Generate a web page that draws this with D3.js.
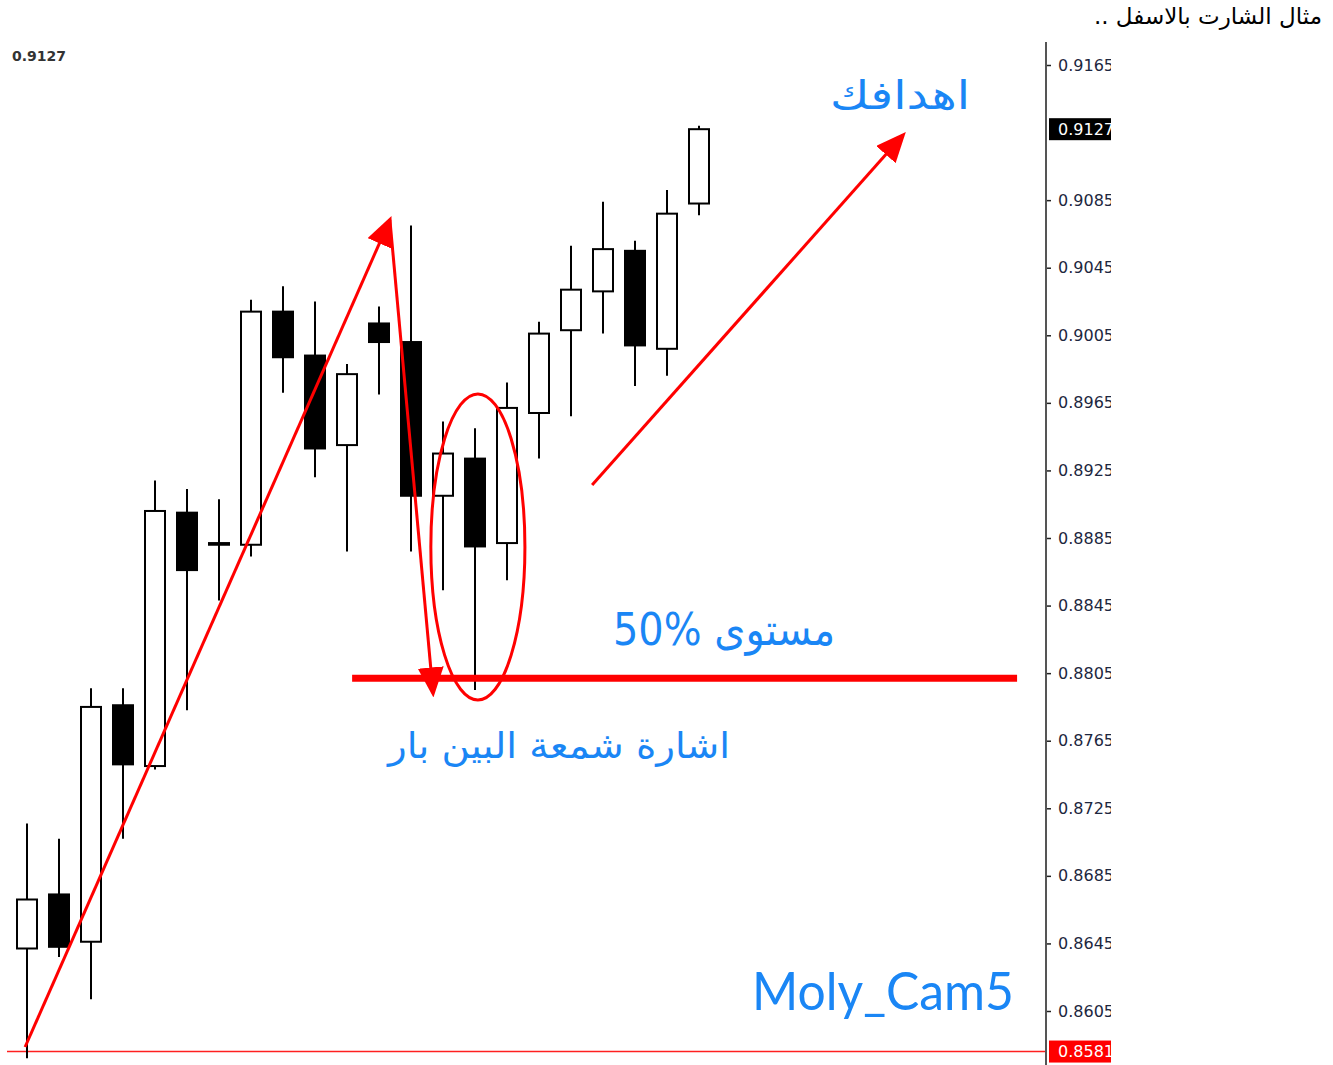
<!DOCTYPE html>
<html lang="ar">
  <head>
    <meta charset="utf-8">
    <title>Pin bar example</title>
  </head>
  <style>
    body {
      margin: 0;
      background: #fff;
    }
    #title {
      position: absolute;
      right: 11px;
      top: 3px;
      font-family: 'DejaVu Sans', sans-serif;
      font-size: 23px;
      direction: rtl;
      color: #000;
    }
  </style>
  <body>
    <div id="title">مثال الشارت بالاسفل ..</div>
    <div id="chart-area"></div>
    <script src="https://cdn.jsdelivr.net/npm/d3@7"></script>
    <script>
      // candles
      const opens  = [0.8642, 0.8674, 0.8646, 0.8786, 0.8750, 0.8900, 0.8881, 0.8881, 0.9019, 0.8993, 0.8940,
                      0.9012, 0.9001, 0.8910, 0.8932, 0.8882, 0.8959, 0.9008, 0.9031, 0.9055, 0.8997, 0.9083];
      const highs  = [0.8716, 0.8707, 0.8796, 0.8796, 0.8919, 0.8914, 0.8908, 0.9026, 0.9034, 0.9025, 0.8988,
                      0.9022, 0.9070, 0.8954, 0.8950, 0.8977, 0.9013, 0.9058, 0.9084, 0.9061, 0.9091, 0.9129];
      const lows   = [0.8577, 0.8637, 0.8612, 0.8707, 0.8748, 0.8783, 0.8848, 0.8874, 0.8971, 0.8921, 0.8877,
                      0.8970, 0.8877, 0.8854, 0.8795, 0.8860, 0.8932, 0.8957, 0.9006, 0.8975, 0.8981, 0.9076];
      const closes = [0.8671, 0.8643, 0.8785, 0.8751, 0.8901, 0.8866, 0.8882, 0.9019, 0.8992, 0.8938, 0.8982,
                      0.9001, 0.8910, 0.8935, 0.8880, 0.8962, 0.9006, 0.9032, 0.9056, 0.8999, 0.9077, 0.9127];

      // 0.9125 sits under the last-price box, so it is left out
      const tick_values = [0.9165, 0.9085, 0.9045, 0.9005, 0.8965, 0.8925, 0.8885, 0.8845,
                           0.8805, 0.8765, 0.8725, 0.8685, 0.8645, 0.8605];
      const low_mark = 0.8581;
      const level_50 = 0.8802;

      // annotation points, [candle index, price]
      const up_leg     = [[-0.06, 0.85837], [11.34, 0.90735]];
      const down_leg   = [[11.34, 0.90735], [12.69, 0.87930]];
      const target_leg = [[17.66, 0.89164], [27.38, 0.91235]];
      const level_span = [10.16, 30.94];
      const pin_circle = {cx: 14.09, cy: 0.88797, rx: 1.47, ry: 0.00906};

      const svg_width = 1333;
      const svg_height = 1065;
      const axis_x = 1046;
      const blue = '#1a86f5';

      const x_scale = d3.scaleLinear().domain([0, 21]).range([27, 699]);
      const y_scale = d3.scaleLinear().domain([0.8605, 0.9165]).range([1011, 65]);

      const candles = opens.map((o, i) => ({i: i, o: o, h: highs[i], l: lows[i], c: closes[i]}));

      const svg = d3.select('#chart-area')
        .append('svg')
        .attr('width', svg_width)
        .attr('height', svg_height)
        .style('display', 'block');

      const defs = svg.append('defs');
      defs.append('clipPath').attr('id', 'axis-clip')
        .append('rect').attr('x', 0).attr('y', 0).attr('width', 1111).attr('height', svg_height);
      defs.append('marker')
        .attr('id', 'head')
        .attr('markerUnits', 'userSpaceOnUse')
        .attr('viewBox', '0 0 30 26')
        .attr('refX', 26).attr('refY', 13)
        .attr('markerWidth', 30).attr('markerHeight', 26)
        .attr('orient', 'auto')
        .append('path')
        .attr('d', 'M0,0 L30,13 L0,26 Z')
        .attr('fill', '#ff0000');

      // top-left price
      svg.append('text')
        .attr('x', 12).attr('y', 61)
        .attr('font-family', 'DejaVu Sans, sans-serif')
        .attr('font-size', '14px')
        .attr('font-weight', 'bold')
        .attr('fill', '#333')
        .text(d3.format('.4f')(closes[closes.length - 1]));

      // low line
      svg.append('line')
        .attr('x1', 7).attr('x2', axis_x)
        .attr('y1', y_scale(low_mark)).attr('y2', y_scale(low_mark))
        .attr('stroke', '#ff2020')
        .attr('stroke-width', 1.5);

      // candles
      const body_w = 20;
      const g_c = svg.append('g');
      g_c.selectAll('line.wick')
        .data(candles)
        .enter()
        .append('line')
        .attr('class', 'wick')
        .attr('x1', d => x_scale(d.i)).attr('x2', d => x_scale(d.i))
        .attr('y1', d => y_scale(d.h)).attr('y2', d => y_scale(d.l))
        .attr('stroke', '#000')
        .attr('stroke-width', 2);
      g_c.selectAll('rect.body')
        .data(candles)
        .enter()
        .append('rect')
        .attr('class', 'body')
        .attr('x', d => x_scale(d.i) - body_w / 2)
        .attr('y', d => y_scale(Math.max(d.o, d.c)))
        .attr('width', body_w)
        .attr('height', d => Math.max(1, Math.abs(y_scale(d.o) - y_scale(d.c))))
        .attr('fill', d => d.c < d.o ? '#000' : '#fff')
        .attr('stroke', '#000')
        .attr('stroke-width', 2);

      // red drawings
      const line_gen = d3.line().x(d => x_scale(d[0])).y(d => y_scale(d[1]));
      [up_leg, down_leg, target_leg].forEach(leg => {
        svg.append('path')
          .attr('d', line_gen(leg))
          .attr('fill', 'none')
          .attr('stroke', '#ff0000')
          .attr('stroke-width', 3)
          .attr('marker-end', 'url(#head)');
      });
      svg.append('line')
        .attr('x1', x_scale(level_span[0])).attr('x2', x_scale(level_span[1]))
        .attr('y1', y_scale(level_50)).attr('y2', y_scale(level_50))
        .attr('stroke', '#ff0000')
        .attr('stroke-width', 7);
      svg.append('ellipse')
        .attr('cx', x_scale(pin_circle.cx))
        .attr('cy', y_scale(pin_circle.cy))
        .attr('rx', x_scale(pin_circle.rx) - x_scale(0))
        .attr('ry', y_scale(pin_circle.cy - pin_circle.ry) - y_scale(pin_circle.cy))
        .attr('fill', 'none')
        .attr('stroke', '#ff0000')
        .attr('stroke-width', 3);

      // blue notes
      const notes = [
        {t: 'اهدافك', x: 900, y: 109, size: 40, len: 140, dir: 'rtl'},
        {t: '50% مستوى', x: 724, y: 645, size: 44, len: 222, dir: 'ltr'},
        {t: 'اشارة شمعة البين بار', x: 559, y: 758, size: 36, len: 342, dir: 'rtl'}
      ];
      svg.selectAll('text.note')
        .data(notes)
        .enter()
        .append('text')
        .attr('class', 'note')
        .attr('x', d => d.x).attr('y', d => d.y)
        .attr('text-anchor', 'middle')
        .attr('direction', d => d.dir)
        .style('direction', d => d.dir)
        .attr('font-family', 'DejaVu Sans, sans-serif')
        .attr('font-size', d => d.size + 'px')
        .attr('textLength', d => d.len)
        .attr('lengthAdjust', 'spacingAndGlyphs')
        .attr('fill', blue)
        .text(d => d.t);
      svg.append('text')
        .attr('x', 883).attr('y', 1010)
        .attr('text-anchor', 'middle')
        .attr('font-family', "'Comic Sans MS', Lato, sans-serif")
        .attr('font-size', '52px')
        .attr('textLength', 262)
        .attr('lengthAdjust', 'spacingAndGlyphs')
        .attr('fill', blue)
        .text('Moly_Cam5');

      // price axis
      const g_axis = svg.append('g').attr('clip-path', 'url(#axis-clip)');
      g_axis.append('line')
        .attr('x1', axis_x).attr('x2', axis_x)
        .attr('y1', 42).attr('y2', svg_height)
        .attr('stroke', '#555')
        .attr('stroke-width', 2);
      const axis = g_axis.append('g')
        .attr('transform', `translate(${axis_x + 1},0)`)
        .call(d3.axisRight(y_scale)
          .tickValues(tick_values)
          .tickSize(4)
          .tickPadding(7)
          .tickFormat(d3.format('.4f')));
      axis.select('.domain').remove();
      axis.selectAll('.tick line').attr('stroke', '#222').attr('stroke-width', 1.5);
      axis.selectAll('.tick text')
        .attr('font-family', 'DejaVu Sans, sans-serif')
        .attr('font-size', '16px')
        .attr('fill', '#1d2740');

      const boxes = [
        {v: closes[closes.length - 1], bg: '#000'},
        {v: low_mark, bg: '#ff0000'}
      ];
      boxes.forEach(b => {
        g_axis.append('rect')
          .attr('x', axis_x + 3).attr('y', y_scale(b.v) - 11)
          .attr('width', 70).attr('height', 22)
          .attr('fill', b.bg);
        g_axis.append('text')
          .attr('x', axis_x + 12).attr('y', y_scale(b.v))
          .attr('dy', '0.35em')
          .attr('font-family', 'DejaVu Sans, sans-serif')
          .attr('font-size', '16px')
          .attr('fill', '#fff')
          .text(d3.format('.4f')(b.v));
      });
    </script>
  </body>
</html>
